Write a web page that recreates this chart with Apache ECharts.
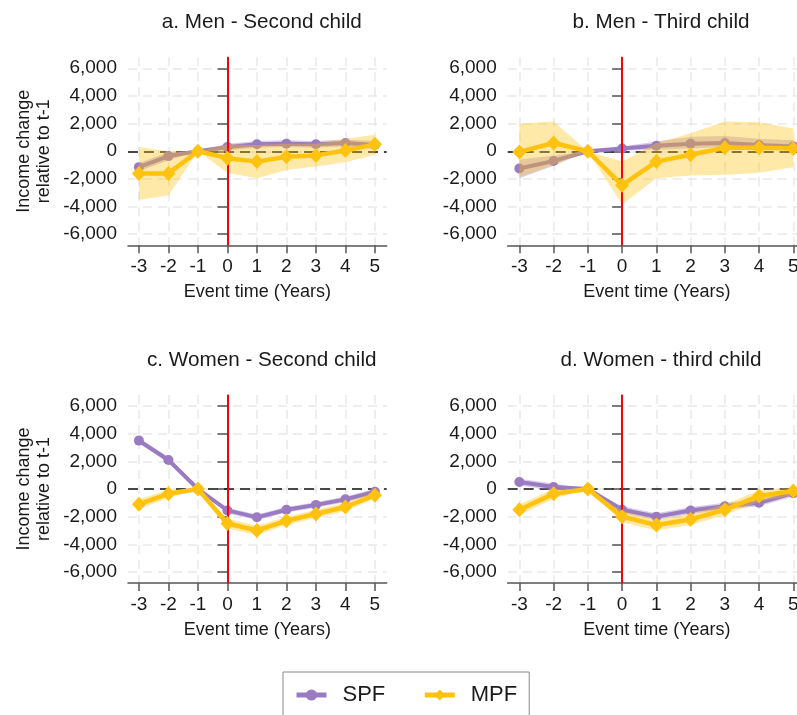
<!DOCTYPE html>
<html>
<head>
<meta charset="utf-8">
<script src="https://cdn.jsdelivr.net/npm/echarts@6/dist/echarts.min.js"></script>
<style>html,body{margin:0;padding:0;background:#fff;}#c{width:797px;height:715px;}</style>
</head>
<body>
<div id="c"></div>
<script>
// ---- data ----
const years = [-3, -2, -1, 0, 1, 2, 3, 4, 5];
const yTicks = [-6000, -4000, -2000, 0, 2000, 4000, 6000];
const panelTitles = ['a. Men - Second child', 'b. Men - Third child', 'c. Women - Second child', 'd. Women - third child'];
const seriesNames = ['SPF', 'MPF'];

// a. Men - Second child
const spfMen2 = [-1150, -350, 0, 300, 500, 550, 500, 600, 450];
const spfMen2Lo = [-1450, -650, 0, 50, 250, 300, 250, 350, 150];
const spfMen2Hi = [-850, -50, 0, 550, 750, 800, 750, 850, 750];
const mpfMen2 = [-1600, -1600, 0, -500, -750, -400, -300, 50, 500];
const mpfMen2Lo = [-3500, -3200, 0, -1550, -1950, -1350, -1100, -800, -250];
const mpfMen2Hi = [300, 0, 0, 500, 450, 550, 550, 900, 1200];

// b. Men - Third child
const spfMen3 = [-1250, -700, 0, 200, 400, 550, 600, 450, 350];
const spfMen3Lo = [-1950, -1050, 0, 50, 100, 200, 300, 200, 100];
const spfMen3Hi = [-600, -300, 0, 350, 700, 1050, 1100, 900, 800];
const mpfMen3 = [-50, 600, 0, -2450, -750, -250, 250, 250, 200];
const mpfMen3Lo = [-1850, -1000, 0, -3850, -1950, -1750, -1700, -1550, -1150];
const mpfMen3Hi = [2000, 2150, 0, -750, 600, 1300, 2150, 2100, 1650];

// c. Women - Second child
const spfWomen2 = [3500, 2100, 0, -1550, -2050, -1500, -1150, -750, -200];
const spfWomen2Lo = [3300, 1900, 0, -1750, -2250, -1700, -1350, -950, -400];
const spfWomen2Hi = [3700, 2300, 0, -1350, -1850, -1300, -950, -550, 0];
const mpfWomen2 = [-1100, -350, 0, -2500, -3000, -2300, -1800, -1300, -450];
const mpfWomen2Lo = [-1450, -650, 0, -2850, -3350, -2600, -2100, -1600, -700];
const mpfWomen2Hi = [-750, -50, 0, -2150, -2650, -2000, -1500, -1000, -200];

// d. Women - third child
const spfWomen3 = [500, 150, 0, -1500, -2000, -1550, -1250, -1000, -300];
const spfWomen3Lo = [250, -100, 0, -1750, -2250, -1800, -1500, -1250, -550];
const spfWomen3Hi = [750, 400, 0, -1250, -1750, -1300, -1000, -750, -50];
const mpfWomen3 = [-1500, -350, 0, -2000, -2600, -2200, -1500, -500, -150];
const mpfWomen3Lo = [-1900, -700, 0, -2400, -3000, -2600, -1900, -900, -450];
const mpfWomen3Hi = [-1100, 0, 0, -1600, -2200, -1800, -1100, -100, 150];

const panelData = [
  { spf: spfMen2, spfLo: spfMen2Lo, spfHi: spfMen2Hi, mpf: mpfMen2, mpfLo: mpfMen2Lo, mpfHi: mpfMen2Hi },
  { spf: spfMen3, spfLo: spfMen3Lo, spfHi: spfMen3Hi, mpf: mpfMen3, mpfLo: mpfMen3Lo, mpfHi: mpfMen3Hi },
  { spf: spfWomen2, spfLo: spfWomen2Lo, spfHi: spfWomen2Hi, mpf: mpfWomen2, mpfLo: mpfWomen2Lo, mpfHi: mpfWomen2Hi },
  { spf: spfWomen3, spfLo: spfWomen3Lo, spfHi: spfWomen3Hi, mpf: mpfWomen3, mpfLo: mpfWomen3Lo, mpfHi: mpfWomen3Hi }
];

// ---- layout / style ----
const FONT = 'Liberation Sans, Arial, sans-serif';
const TXT = '#1a1a1a';
const PURPLE = '#9a7bc2';
const YELLOW = '#ffc20e';
const PURPLE_BAND = 'rgba(154,123,194,0.38)';
const YELLOW_BAND = 'rgba(255,194,14,0.36)';
const AXIS_C = '#555';
const GRID_C = '#e9e9e9';

const layouts = [
  { left: 128, top: 57.2, width: 258.7, height: 188.1, xmin: -3.37, xmax: 5.4, tx: 256.7, ty: 7, yname: true },
  { left: 507.7, top: 57.2, width: 298.3, height: 188.1, xmin: -3.34, xmax: 5.37, tx: 656, ty: 7, yname: false },
  { left: 128, top: 395, width: 258.7, height: 188, xmin: -3.37, xmax: 5.4, tx: 256.7, ty: 345, yname: true },
  { left: 507.7, top: 395, width: 298.3, height: 188, xmin: -3.34, xmax: 5.37, tx: 656, ty: 345, yname: false }
];

const grids = [], xAxes = [], yAxes = [], titles = [], series = [];

function bandSeries(idx, lo, hi, color, z) {
  return {
    type: 'custom', xAxisIndex: idx, yAxisIndex: idx, z: z, silent: true,
    data: [[years[0], lo[0]]],
    renderItem: function (params, api) {
      const pts = [];
      for (let i = 0; i < years.length; i++) pts.push(api.coord([years[i], hi[i]]));
      for (let i = years.length - 1; i >= 0; i--) pts.push(api.coord([years[i], lo[i]]));
      return { type: 'polygon', shape: { points: pts }, style: { fill: color, stroke: null } };
    }
  };
}

layouts.forEach(function (L, i) {
  const d = panelData[i];
  grids.push({ left: L.left, top: L.top, width: L.width, height: L.height, containLabel: false, outerBoundsMode: 'none' });
  titles.push({
    text: panelTitles[i], left: L.tx, top: L.ty, textAlign: 'center',
    textStyle: { fontFamily: FONT, fontSize: 20.7, fontWeight: 'normal', color: TXT }
  });
  xAxes.push({
    type: 'value', gridIndex: i, min: L.xmin, max: L.xmax,
    name: 'Event time (Years)', nameLocation: 'middle', nameGap: 38,
    nameTextStyle: { fontFamily: FONT, fontSize: 18, color: TXT },
    axisLine: { show: true, onZero: false, lineStyle: { color: AXIS_C, width: 1.5 } },
    axisTick: { show: true, length: 8, customValues: years, lineStyle: { color: AXIS_C, width: 1.5 } },
    axisLabel: { customValues: years, margin: 12, fontFamily: FONT, fontSize: 19, color: TXT },
    splitLine: { show: true, lineStyle: { color: GRID_C, width: 1.5, type: [9, 6] } }
  });
  yAxes.push({
    type: 'value', gridIndex: i, min: -6800, max: 6800,
    name: L.yname ? 'Income change\nrelative to t-1' : '', nameLocation: 'middle', nameGap: 74, nameRotate: 90,
    nameTextStyle: { fontFamily: FONT, fontSize: 18, color: TXT, lineHeight: 20 },
    axisLine: { show: true, lineStyle: { color: AXIS_C, width: 1.5 } },
    axisTick: { show: true, length: 10, customValues: yTicks, lineStyle: { color: AXIS_C, width: 1.5 } },
    axisLabel: { customValues: yTicks, margin: 11, fontFamily: FONT, fontSize: 19, color: TXT },
    splitLine: { show: true, lineStyle: { color: GRID_C, width: 1.5, type: [9, 6] } }
  });
  // zero reference line (dashed, underneath)
  series.push({
    type: 'line', xAxisIndex: i, yAxisIndex: i, data: [], silent: true,
    markLine: { z: 1, silent: true, symbol: 'none', label: { show: false },
      lineStyle: { color: '#111', width: 1.6, type: [10, 6] }, data: [{ yAxis: 0 }] }
  });
  series.push(bandSeries(i, d.spfLo, d.spfHi, PURPLE_BAND, 2));
  series.push({
    name: seriesNames[0], type: 'line', xAxisIndex: i, yAxisIndex: i, z: 3,
    data: years.map(function (x, k) { return [x, d.spf[k]]; }),
    symbol: 'circle', symbolSize: 10, showSymbol: true,
    lineStyle: { color: PURPLE, width: 4 }, itemStyle: { color: PURPLE },
    emphasis: { disabled: true }
  });
  series.push(bandSeries(i, d.mpfLo, d.mpfHi, YELLOW_BAND, 4));
  // event line at t = 0
  series.push({
    type: 'line', xAxisIndex: i, yAxisIndex: i, data: [], silent: true,
    markLine: { z: 5, silent: true, symbol: 'none', label: { show: false },
      lineStyle: { color: '#ff0000', width: 2, type: 'solid' }, data: [{ xAxis: 0 }] }
  });
  series.push({
    name: seriesNames[1], type: 'line', xAxisIndex: i, yAxisIndex: i, z: 6,
    data: years.map(function (x, k) { return [x, d.mpf[k]]; }),
    symbol: 'diamond', symbolSize: [14, 15], showSymbol: true,
    lineStyle: { color: YELLOW, width: 4.5 }, itemStyle: { color: YELLOW },
    emphasis: { disabled: true }
  });
});

const chart = echarts.init(document.getElementById('c'), null, { renderer: 'canvas' });
chart.setOption({
  animation: false,
  backgroundColor: '#fff',
  title: titles,
  grid: grids,
  xAxis: xAxes,
  yAxis: yAxes,
  legend: {
    data: seriesNames, left: 283, top: 672,
    padding: [12, 12, 12, 11], itemWidth: 30, itemHeight: 14, itemGap: 37,
    borderColor: '#888', borderWidth: 1, backgroundColor: '#fff',
    selectedMode: false,
    lineStyle: { width: 5 },
    textStyle: { fontFamily: FONT, fontSize: 22, color: TXT, padding: [0, 0, 0, 11] }
  },
  series: series
});
</script>
</body>
</html>
